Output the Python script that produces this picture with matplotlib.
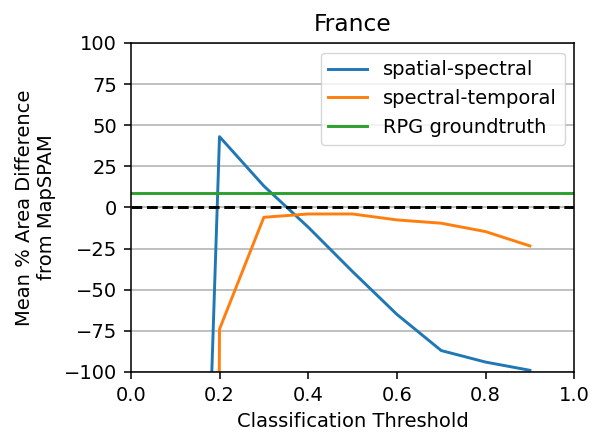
import matplotlib
matplotlib.use("Agg")
import matplotlib.pyplot as plt

thresholds = [0.1, 0.2, 0.3, 0.4, 0.5, 0.6, 0.7, 0.8, 0.9]
spatial_spectral = [-780, 43, 13, -12, -39, -65, -87, -94, -99]
spectral_temporal = [-5000, -74, -6, -4, -4, -7.6, -9.6, -14.7, -23.4]
rpg_groundtruth = 9

s = 1.4  # overall scale of text and line weights
plt.rcParams.update({
    "font.size": 10 * s,
    "axes.linewidth": 0.8 * s,
    "xtick.major.size": 3.5 * s,
    "ytick.major.size": 3.5 * s,
    "xtick.major.width": 0.8 * s,
    "ytick.major.width": 0.8 * s,
    "xtick.major.pad": 3.5 * s,
    "ytick.major.pad": 3.5 * s,
    "axes.titlepad": 6 * s,
    "axes.labelpad": 4 * s,
})

fig = plt.figure(figsize=(5.92, 4.33), dpi=100)
ax = fig.add_axes([0.221, 0.141, 0.749, 0.760])

lw = 1.5 * s
ax.plot(thresholds, spatial_spectral, color="#1f77b4", lw=lw, label="spatial-spectral")
ax.plot(thresholds, spectral_temporal, color="#ff7f0e", lw=lw, label="spectral-temporal")
ax.plot([0.0, 1.0], [rpg_groundtruth, rpg_groundtruth], color="#2ca02c", lw=lw,
        label="RPG groundtruth")
ax.axhline(0, color="black", ls="--", lw=lw)

ax.set_xlim(0, 1)
ax.set_ylim(-100, 100)
ax.set_yticks(range(-100, 101, 25))
ax.grid(axis="y", color="#b0b0b0", lw=0.8 * s)
ax.set_axisbelow(True)
ax.set_title("France", fontsize=12 * s)
ax.set_xlabel("Classification Threshold")
ax.set_ylabel("Mean % Area Difference\nfrom MapSPAM")
ax.legend(loc="upper right")

fig.savefig("out.png", dpi=100)
